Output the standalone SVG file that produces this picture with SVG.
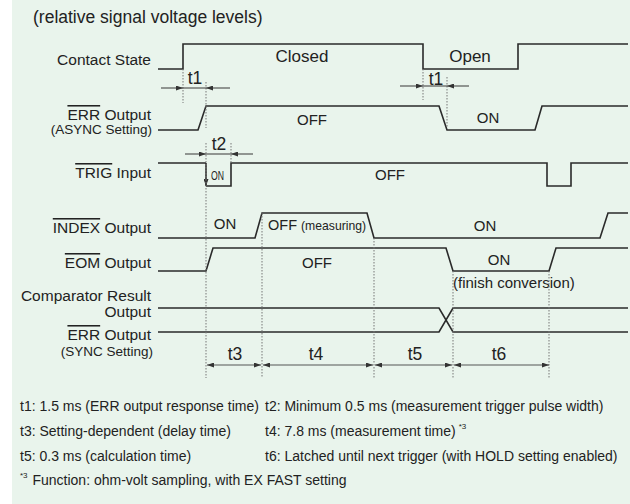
<svg xmlns="http://www.w3.org/2000/svg" width="630" height="504" viewBox="0 0 630 504">
<style>
text{font-family:"Liberation Sans",Arial,sans-serif;fill:#222}
.lbl{font-size:15.5px;text-anchor:end}
.sub{font-size:13.5px;text-anchor:end}
.st{font-size:15px;text-anchor:middle}
.big{font-size:17px;text-anchor:middle}
.dim{font-size:17.5px;text-anchor:middle}
.note{font-size:14px}
.ol{text-decoration:overline}
.wave{fill:none;stroke:#2a2a2a;stroke-width:1.6}
.dl{fill:none;stroke:#555;stroke-width:1.2}
.dot{fill:none;stroke:#777;stroke-width:1;stroke-dasharray:1.5 1.5}
</style>
<defs>
<marker id="ah" viewBox="0 0 7 5" refX="7" refY="2.5" markerWidth="7" markerHeight="5" markerUnits="userSpaceOnUse" orient="auto-start-reverse">
<path d="M0,0 L7,2.5 L0,5 z" fill="#333"/>
</marker>
</defs>
<rect x="0" y="0" width="630" height="504" fill="#ffffff"/>
<rect x="12" y="0" width="618" height="504" fill="#e9f4ec"/>
<text x="33" y="23" style="font-size:17.5px">(relative signal voltage levels)</text>

<g id="contact-state">
<text class="lbl" x="151" y="65">Contact State</text>
<path class="wave" d="M158,69 H183 V44 H423 V69 H518 V44 H628"/>
<text class="big" x="302" y="62">Closed</text>
<text class="big" x="470" y="62">Open</text>
</g>

<g id="err-async">
<text class="lbl" x="151" y="120"><tspan class="ol">ERR</tspan> Output</text>
<text class="sub" x="152" y="134">(ASYNC Setting)</text>
<path class="wave" d="M158,130 H198 L206,106 H439 L447,130 H535 L542,106 H628"/>
<text class="st" x="312" y="125">OFF</text>
<text class="st" x="488" y="123">ON</text>
</g>

<g id="trig-input">
<text class="lbl" x="151" y="178"><tspan class="ol">TRIG</tspan> Input</text>
<path class="wave" d="M158,163 H206"/>
<path class="wave" d="M206,163 V186" marker-end="url(#ah)"/>
<path class="wave" d="M206,186 H231 V163 H547 V186 H571 V163 H628"/>
<text x="211" y="180" style="font-size:13px" textLength="13" lengthAdjust="spacingAndGlyphs">ON</text>
<text class="st" x="390" y="180">OFF</text>
</g>

<g id="index-output">
<text class="lbl" x="151" y="233"><tspan class="ol">INDEX</tspan> Output</text>
<path class="wave" d="M158,238 H255 L262,213 H367 L374,238 H600 L608,213 H628"/>
<text class="st" x="225" y="229">ON</text>
<text x="268" y="230" style="font-size:14.5px">OFF <tspan style="font-size:12.2px">(measuring)</tspan></text>
<text class="st" x="485" y="231">ON</text>
</g>

<g id="eom-output">
<text class="lbl" x="151" y="268"><tspan class="ol">EOM</tspan> Output</text>
<path class="wave" d="M158,271 H206 L213,248 H446 L453,271 H549 L556,248 H628"/>
<text class="st" x="317" y="268">OFF</text>
<text class="st" x="499" y="265">ON</text>
<text x="453" y="288" style="font-size:15px">(finish conversion)</text>
</g>

<g id="comparator-output">
<text class="lbl" x="151" y="301">Comparator Result</text>
<text class="lbl" x="151" y="317">Output</text>
<path class="wave" d="M158,308 H439 L453,332 H628"/>
</g>

<g id="err-sync">
<text class="lbl" x="151" y="340"><tspan class="ol">ERR</tspan> Output</text>
<text class="sub" x="153" y="356">(SYNC Setting)</text>
<path class="wave" d="M158,332 H439 L453,308 H628"/>
</g>

<g id="connectors">
<path class="dot" d="M183,69 V103 M206,82 V128 M206,143 V378 M231,143 V163 M423,69 V100 M447,77 V128 M262,213 V378 M374,238 V378 M453,271 V378 M549,271 V378"/>
<path class="dl" d="M161,88 H183" marker-end="url(#ah)"/>
<path class="dl" d="M230,88 H206" marker-end="url(#ah)"/>
<path class="dl" d="M183,88 H206"/>
<text class="dim" x="195" y="84">t1</text>
<path class="dl" d="M400,86 H423" marker-end="url(#ah)"/>
<path class="dl" d="M469,86 H447" marker-end="url(#ah)"/>
<path class="dl" d="M423,86 H447"/>
<text class="dim" x="436" y="85">t1</text>
<path class="dl" d="M185,154 H206" marker-end="url(#ah)"/>
<path class="dl" d="M253,154 H231" marker-end="url(#ah)"/>
<path class="dl" d="M206,154 H231"/>
<text class="dim" x="219" y="150">t2</text>
<path class="dl" d="M207,365 H261" marker-start="url(#ah)" marker-end="url(#ah)"/>
<path class="dl" d="M263,365 H373" marker-start="url(#ah)" marker-end="url(#ah)"/>
<path class="dl" d="M375,365 H452" marker-start="url(#ah)" marker-end="url(#ah)"/>
<path class="dl" d="M454,365 H549" marker-start="url(#ah)" marker-end="url(#ah)"/>
<text class="dim" x="235" y="360">t3</text>
<text class="dim" x="316" y="360">t4</text>
<text class="dim" x="415" y="360">t5</text>
<text class="dim" x="499" y="360">t6</text>
</g>

<g id="notes">
<text class="note" x="20" y="411">t1: 1.5 ms (ERR output response time)</text>
<text class="note" x="265" y="411">t2: Minimum 0.5 ms (measurement trigger pulse width)</text>
<text class="note" x="20" y="436">t3: Setting-dependent (delay time)</text>
<text class="note" x="265" y="436">t4: 7.8 ms (measurement time)<tspan style="font-size:8px" dx="3" dy="-7">*3</tspan></text>
<text class="note" x="20" y="461">t5: 0.3 ms (calculation time)</text>
<text class="note" x="265" y="461">t6: Latched until next trigger (with HOLD setting enabled)</text>
<text class="note" x="20" y="485"><tspan style="font-size:8px" dy="-7">*3</tspan><tspan dx="1" dy="7"> Function: ohm-volt sampling, with EX FAST setting</tspan></text>
</g>
</svg>
